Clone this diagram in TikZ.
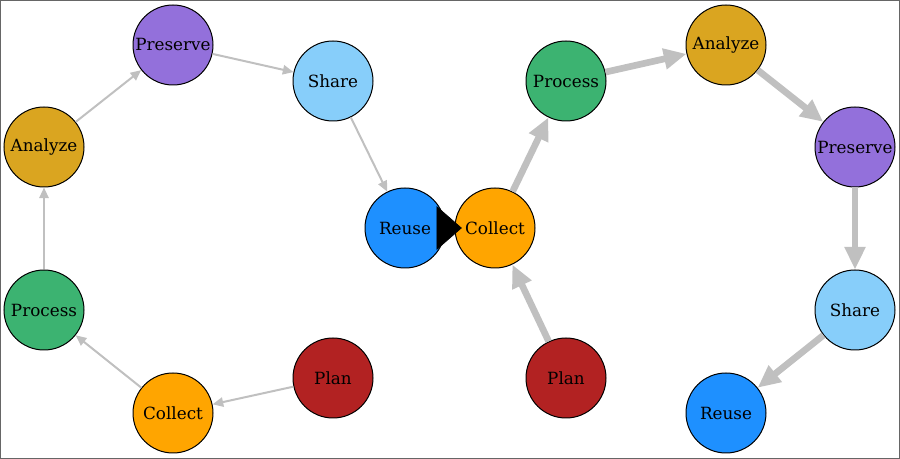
\documentclass[tikz,border=0pt]{standalone}
\usepackage{fontspec}
\setmainfont{DejaVu Serif}
\usepackage{xcolor}
\usepackage{tikz}
\usetikzlibrary{arrows.meta}

\definecolor{planred}{HTML}{B22222}
\definecolor{collectorange}{HTML}{FFA500}
\definecolor{processgreen}{HTML}{3CB371}
\definecolor{analyzegold}{HTML}{DAA520}
\definecolor{preservepurple}{HTML}{9370DB}
\definecolor{shareblue}{HTML}{87CEFA}
\definecolor{reuseblue}{HTML}{1E90FF}
\definecolor{flowgray}{HTML}{C0C0C0}

\begin{document}
\begin{tikzpicture}[
    x=0.75pt, y=-0.75pt,
    stage/.style={
        circle,
        draw,
        line width=0.75pt,
        inner sep=0pt,
        minimum size=60pt,
        font=\fontsize{12.6}{14}\selectfont
    },
    thinflow/.style={
        -{Triangle[length=8pt,width=7pt]},
        draw=flowgray,
        line width=1.5pt
    },
    thickflow/.style={
        -{Triangle[length=17pt,width=15pt]},
        draw=flowgray,
        line width=5pt
    },
    jump/.style={
        -{Triangle[length=19pt,width=33pt]},
        line width=0.5pt,
        shorten >=-5.5pt
    }
]

\useasboundingbox (0,0) rectangle (900,459);
\draw[gray!80!black, line width=0.75pt] (0.5,0.5) rectangle (899.5,458.5);

% first cycle
\node[stage, fill=planred] (lplan) at (333,378) {Plan};
\node[stage, fill=collectorange] (lcollect) at (173,413) {Collect};
\node[stage, fill=processgreen] (lprocess) at (44,310) {Process};
\node[stage, fill=analyzegold] (lanalyze) at (44,147) {Analyze};
\node[stage, fill=preservepurple] (lpreserve) at (173,45) {Preserve};
\node[stage, fill=shareblue] (lshare) at (333,81) {Share};
\node[stage, fill=reuseblue] (lreuse) at (405,228) {Reuse};

% second cycle
\node[stage, fill=collectorange] (rcollect) at (495,228) {Collect};
\node[stage, fill=planred] (rplan) at (566,378) {Plan};
\node[stage, fill=processgreen] (rprocess) at (566,81) {Process};
\node[stage, fill=analyzegold] (ranalyze) at (726,45) {Analyze};
\node[stage, fill=preservepurple] (rpreserve) at (855,147) {Preserve};
\node[stage, fill=shareblue] (rshare) at (855,310) {Share};
\node[stage, fill=reuseblue] (rreuse) at (726,413) {Reuse};

\draw[thinflow] (lplan) -- (lcollect);
\draw[thinflow] (lcollect) -- (lprocess);
\draw[thinflow] (lprocess) -- (lanalyze);
\draw[thinflow] (lanalyze) -- (lpreserve);
\draw[thinflow] (lpreserve) -- (lshare);
\draw[thinflow] (lshare) -- (lreuse);

\draw[thickflow] (rplan) -- (rcollect);
\draw[thickflow] (rcollect) -- (rprocess);
\draw[thickflow] (rprocess) -- (ranalyze);
\draw[thickflow] (ranalyze) -- (rpreserve);
\draw[thickflow] (rpreserve) -- (rshare);
\draw[thickflow] (rshare) -- (rreuse);

\draw[jump] (lreuse) -- (rcollect);

\end{tikzpicture}
\end{document}
